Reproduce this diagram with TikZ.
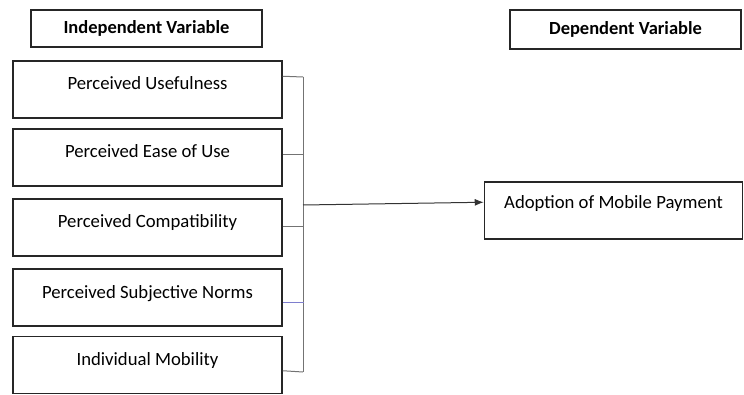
\documentclass[tikz,border=0pt]{standalone}
\usepackage{fontspec}
\setmainfont{Carlito}
\usetikzlibrary{arrows.meta}
\begin{document}
\begin{tikzpicture}[x=1pt,y=1pt,
  font=\fontsize{18.7}{22}\selectfont,
  head/.style={draw=black!85, line width=1.5pt, minimum width=231pt, inner sep=0pt, font=\fontsize{18.5}{22}\selectfont\bfseries},
  varbox/.style={draw=black!85, line width=1.5pt, minimum width=269pt, inner sep=0pt, text height=29pt, text depth=28pt},
  outbox/.style={draw=black!85, line width=1.5pt, minimum width=258pt, inner sep=0pt, text height=27pt, text depth=30pt},
  link/.style={draw=black!55, line width=1pt}]
\useasboundingbox (0,0) rectangle (744,394);

% column headings
\node[head, minimum height=37pt] (indep) at (146.5,365.5) {Independent Variable};
\node[head, minimum height=39pt] (dep) at (625.5,364.5) {Dependent Variable};

% independent variables
\node[varbox] (pu) at (147.5,304.5) {Perceived Usefulness};
\node[varbox] (pe) at (147.5,236.5) {Perceived Ease of Use};
\node[varbox] (pc) at (147.5,166.5) {Perceived Compatibility};
\node[varbox] (pn) at (147.5,96.5) {Perceived Subjective Norms};
\node[varbox] (im) at (147.5,29) {Individual Mobility};

% dependent variable
\node[outbox] (ad) at (613.5,183.5) {Adoption of Mobile Payment};

% collecting bus
\coordinate (bustop) at (303,317);
\coordinate (busbot) at (303,22);
\coordinate (busout) at (303,189);
\draw[link] (bustop) -- (busbot);
\draw[link] ([yshift=-16pt]pu.north east) -- (bustop);
\draw[link] ([yshift=-26pt]pe.north east) -- ++(21,0);
\draw[link] ([yshift=-28pt]pc.north east) -- ++(21,0);
\draw[draw=blue!45!gray!70, line width=1pt] ([yshift=-34pt]pn.north east) -- ++(21,0);
\draw[link] ([yshift=-35pt]im.north east) -- (busbot);

% arrow to the outcome
\draw[link, draw=black!80, -{Latex[length=9pt,width=7pt]}] (busout) -- ([yshift=-21pt]ad.north west);
\end{tikzpicture}
\end{document}
